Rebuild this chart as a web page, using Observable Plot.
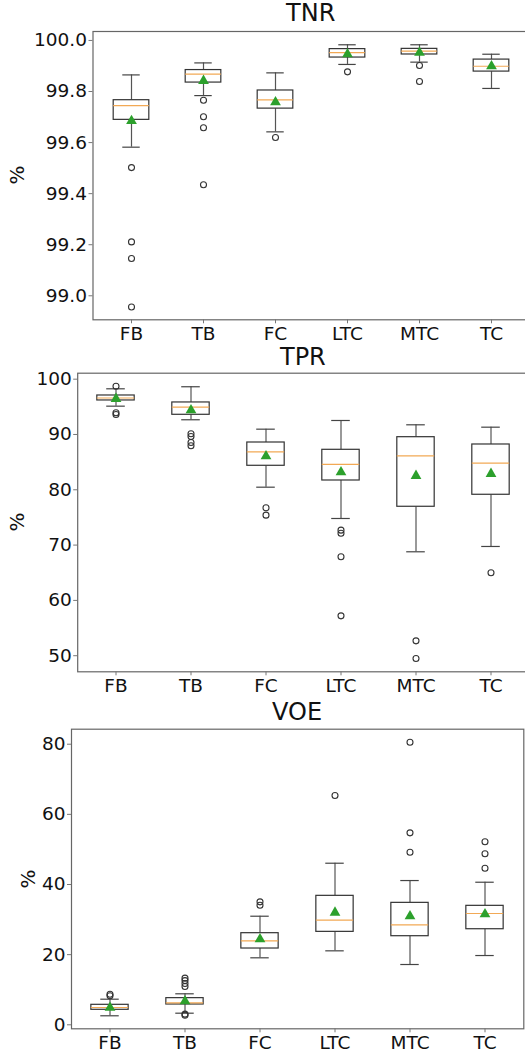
<!DOCTYPE html>
<html>
<head>
<meta charset="utf-8">
<script src="https://cdn.jsdelivr.net/npm/d3@7"></script>
<script src="https://cdn.jsdelivr.net/npm/@observablehq/plot@0.6"></script>
<style>
  html, body { margin: 0; padding: 0; background: #fff; }
  body { width: 525px; height: 1054px; position: relative; overflow: hidden; font-family: "DejaVu Sans", sans-serif; }
  .panel { position: absolute; left: 0; }
  .panel svg { max-width: none !important; }
  .title { position: absolute; font-size: 24px; color: #111; transform: translate(-50%, -50%); white-space: nowrap; }
  .ylab { position: absolute; font-size: 20px; color: #111; transform: translate(-50%, -50%) rotate(-90deg); }
</style>
</head>
<body>
<script>
const categories = ["FB", "TB", "FC", "LTC", "MTC", "TC"];

// TNR (%)
const tnrLow    = [99.582, 99.784, 99.642, 99.906, 99.915, 99.812];
const tnrQ1     = [99.689, 99.835, 99.733, 99.933, 99.945, 99.878];
const tnrMedian = [99.745, 99.868, 99.767, 99.952, 99.958, 99.899];
const tnrQ3     = [99.766, 99.884, 99.804, 99.966, 99.967, 99.925];
const tnrHigh   = [99.865, 99.912, 99.873, 99.983, 99.983, 99.946];
const tnrMean   = [99.685, 99.842, 99.758, 99.946, 99.952, 99.899];
const tnrOutliers = [[99.502, 99.211, 99.146, 98.956], [99.766, 99.701, 99.658, 99.435], [99.620], [99.877], [99.902, 99.839], []];
const tnrTicks = [99.0, 99.2, 99.4, 99.6, 99.8, 100.0];

// TPR (%)
const tprLow    = [95.12, 92.66, 80.47, 74.81, 68.79, 69.75];
const tprQ1     = [96.15, 93.56, 84.34, 81.68, 76.93, 79.10];
const tprMedian = [96.60, 94.94, 86.87, 84.58, 86.14, 84.82];
const tprQ3     = [97.05, 95.79, 88.55, 87.23, 89.51, 88.19];
const tprHigh   = [98.26, 98.63, 90.96, 92.53, 91.75, 91.32];
const tprMean   = [96.45, 94.40, 86.08, 83.19, 82.53, 82.89];
const tprOutliers = [[98.73, 93.92, 93.62], [90.12, 89.64, 88.55, 87.95], [76.75, 75.41], [72.70, 72.15, 67.88, 57.21], [52.69, 49.49], [65.0]];
const tprTicks = [50, 60, 70, 80, 90, 100];

// VOE (%)
const voeLow    = [2.57, 3.31, 19.10, 21.09, 17.19, 19.75];
const voeQ1     = [4.28, 5.79, 21.75, 26.50, 25.26, 27.25];
const voeMedian = [4.93, 6.27, 23.93, 29.83, 28.50, 31.73];
const voeQ3     = [5.70, 7.60, 26.12, 36.77, 34.77, 33.92];
const voeHigh   = [7.30, 8.84, 30.96, 46.07, 41.13, 40.65];
const voeMean   = [4.90, 6.74, 24.41, 32.00, 30.96, 31.53];
const voeOutliers = [[8.72, 8.27], [13.3, 12.6, 11.77, 10.9, 3.03, 2.75], [35.06, 34.1], [65.36], [80.56, 54.73, 49.2], [52.17, 48.75, 44.64]];
const voeTicks = [0, 20, 40, 60, 80];

function panel(cfg) {
  const rows = categories.map((c, i) => ({
    cat: c, lo: cfg.low[i], q1: cfg.q1[i], med: cfg.median[i], q3: cfg.q3[i], hi: cfg.high[i], mean: cfg.mean[i]
  }));
  const outs = categories.flatMap((c, i) => cfg.outliers[i].map(v => ({cat: c, v})));
  const bw = (cfg.width - cfg.ml - cfg.mr) / categories.length;
  const boxInset = bw * 0.25;
  const capInset = bw * 0.375;
  const plot = Plot.plot({
    width: cfg.width,
    height: cfg.height,
    marginLeft: cfg.ml,
    marginRight: cfg.mr,
    marginTop: cfg.mt,
    marginBottom: cfg.mb,
    style: {fontSize: "18.5px", fontFamily: "DejaVu Sans, sans-serif", color: "#111", background: "transparent", overflow: "visible", maxWidth: "none"},
    x: {type: "band", domain: categories, padding: 0},
    y: {domain: cfg.domain},
    marks: [
      Plot.ruleX(rows, {x: "cat", y1: "lo", y2: "q1", stroke: "#555", strokeWidth: 1.2}),
      Plot.ruleX(rows, {x: "cat", y1: "q3", y2: "hi", stroke: "#555", strokeWidth: 1.2}),
      Plot.tickY(rows, {x: "cat", y: "lo", stroke: "#444", strokeWidth: 1.2, insetLeft: capInset, insetRight: capInset}),
      Plot.tickY(rows, {x: "cat", y: "hi", stroke: "#444", strokeWidth: 1.2, insetLeft: capInset, insetRight: capInset}),
      Plot.barY(rows, {x: "cat", y1: "q1", y2: "q3", fill: "white", stroke: "#333", strokeWidth: 1.2, insetLeft: boxInset, insetRight: boxInset}),
      Plot.tickY(rows, {x: "cat", y: "med", stroke: "#f2a955", strokeWidth: 1.2, insetLeft: boxInset, insetRight: boxInset}),
      Plot.dot(outs, {x: "cat", y: "v", r: 3, stroke: "#333", strokeWidth: 1.1, fill: "none"}),
      Plot.dot(rows, {x: "cat", y: "mean", symbol: "triangle", r: 4, fill: "#2ca02c", stroke: "none"}),
      Plot.frame({stroke: "#666", strokeWidth: 1.2}),
      Plot.axisX({tickSize: 4, tickPadding: 3, label: null, stroke: "#777"}),
      Plot.axisY({ticks: cfg.ticks, tickFormat: cfg.format, tickSize: 4, tickPadding: 2, label: null, stroke: "#777"})
    ]
  });
  const wrap = document.createElement("div");
  wrap.className = "panel";
  wrap.style.top = cfg.top + "px";
  wrap.appendChild(plot);
  document.body.appendChild(wrap);

  const t = document.createElement("div");
  t.className = "title";
  t.textContent = cfg.title;
  t.style.left = (cfg.ml + (cfg.width - cfg.ml - cfg.mr) / 2) + "px";
  t.style.top = (cfg.top + cfg.titleY) + "px";
  document.body.appendChild(t);

  const yl = document.createElement("div");
  yl.className = "ylab";
  yl.textContent = "%";
  yl.style.left = cfg.ylabX + "px";
  yl.style.top = (cfg.top + cfg.mt + (cfg.height - cfg.mt - cfg.mb) / 2) + "px";
  document.body.appendChild(yl);
}

panel({
  title: "TNR", top: 0, width: 535, height: 345, ml: 92.5, mr: 6, mt: 31, mb: 25.7, titleY: 13, ylabX: 17,
  domain: [98.906, 100.035], ticks: tnrTicks, format: d3.format(".1f"),
  low: tnrLow, q1: tnrQ1, median: tnrMedian, q3: tnrQ3, high: tnrHigh, mean: tnrMean, outliers: tnrOutliers
});
panel({
  title: "TPR", top: 345, width: 535, height: 355, ml: 77.2, mr: 6.4, mt: 27.7, mb: 28.7, titleY: 12, ylabX: 17,
  domain: [47.09, 101.08], ticks: tprTicks, format: d3.format("d"),
  low: tprLow, q1: tprQ1, median: tprMedian, q3: tprQ3, high: tprHigh, mean: tprMean, outliers: tprOutliers
});
panel({
  title: "VOE", top: 700, width: 535, height: 354, ml: 71, mr: 11.7, mt: 28.7, mb: 25.7, titleY: 12, ylabX: 28,
  domain: [-1.14, 84.28], ticks: voeTicks, format: d3.format("d"),
  low: voeLow, q1: voeQ1, median: voeMedian, q3: voeQ3, high: voeHigh, mean: voeMean, outliers: voeOutliers
});
</script>
</body>
</html>
